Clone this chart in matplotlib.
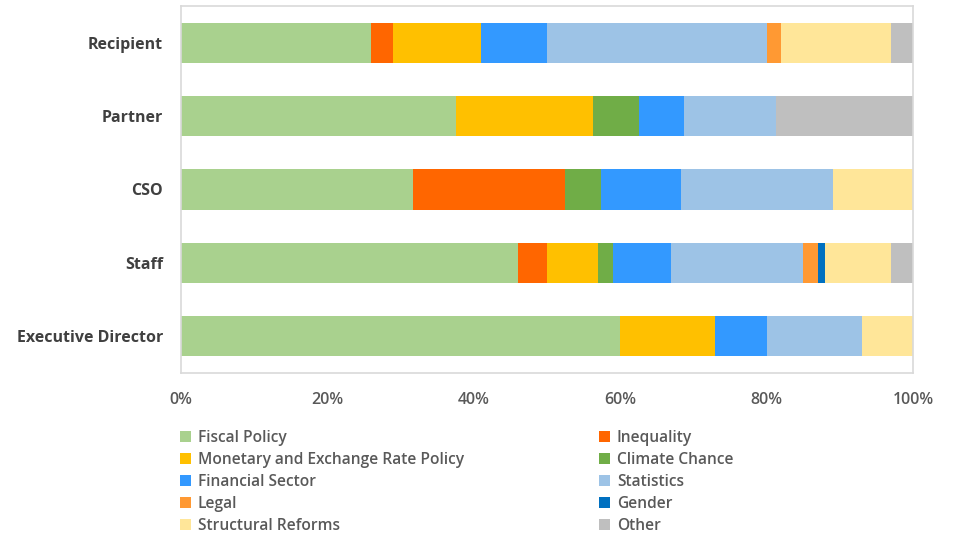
import matplotlib.pyplot as plt
import numpy as np

plt.rcParams['font.family'] = ['Open Sans', 'DejaVu Sans']

# categories top to bottom
groups = ['Recipient', 'Partner', 'CSO', 'Staff', 'Executive Director']

# share of each topic (%) per group, same order as groups
fiscal     = [26, 37.5, 31.7, 46, 60]
inequality = [3, 0, 20.7, 4, 0]
monetary   = [12, 18.75, 0, 7, 13]
climate    = [0, 6.25, 5.0, 2, 0]
financial  = [9, 6.25, 10.9, 8, 7]
statistics = [30, 12.5, 20.8, 18, 13]
legal      = [2, 0, 0, 2, 0]
gender     = [0, 0, 0, 1, 0]
structural = [15, 0, 10.9, 9, 7]
other      = [3, 18.75, 0, 3, 0]

series = [
    ('Fiscal Policy', fiscal, '#A9D18E'),
    ('Inequality', inequality, '#FF6600'),
    ('Monetary and Exchange Rate Policy', monetary, '#FFC000'),
    ('Climate Chance', climate, '#70AD47'),
    ('Financial Sector', financial, '#3399FF'),
    ('Statistics', statistics, '#9DC3E6'),
    ('Legal', legal, '#FF9933'),
    ('Gender', gender, '#0070C0'),
    ('Structural Reforms', structural, '#FFE699'),
    ('Other', other, '#BFBFBF'),
]

fig = plt.figure(figsize=(9.55, 5.33), dpi=100)
ax = fig.add_axes([181/955, 1 - 373/533, 732/955, 367/533])

y = np.arange(len(groups))[::-1]
left = np.zeros(len(groups))
handles = {}
for name, vals, col in series:
    vals = np.array(vals, dtype=float)
    b = ax.barh(y, vals, left=left, height=0.55, color=col, label=name, linewidth=0)
    handles[name] = b
    left += vals

ax.set_xlim(0, 100)
ax.set_ylim(-0.5, len(groups) - 0.5)
ax.set_yticks(y)
ax.set_yticklabels(groups, fontsize=11.5, fontweight='bold', color='#404040')
ax.set_xticks(np.arange(0, 101, 20))
ax.set_xticklabels([f'{v}%' for v in range(0, 101, 20)], fontsize=11.5,
                   fontweight='semibold', color='#595959')
ax.tick_params(length=0)
ax.tick_params(axis='x', pad=14)
ax.tick_params(axis='y', pad=13)
for s in ax.spines.values():
    s.set_color('#D9D9D9')
    s.set_linewidth(1.2)

# legend laid out row by row, in two columns
left_names = ['Fiscal Policy', 'Monetary and Exchange Rate Policy', 'Financial Sector',
              'Legal', 'Structural Reforms']
right_names = ['Inequality', 'Climate Chance', 'Statistics', 'Gender', 'Other']
kw = dict(frameon=False, handlelength=0.7, handleheight=0.7,
          handletextpad=0.45, labelspacing=0.39, borderaxespad=0, borderpad=0,
          labelcolor='#595959', prop={'weight': 'semibold', 'size': 11.2})
fig.legend([handles[n] for n in left_names], left_names, loc='upper left',
           bbox_to_anchor=(180/955, 1 - 430/533), **kw)
fig.legend([handles[n] for n in right_names], right_names, loc='upper left',
           bbox_to_anchor=(599/955, 1 - 430/533), **kw)

fig.savefig('out.png', dpi=100)
